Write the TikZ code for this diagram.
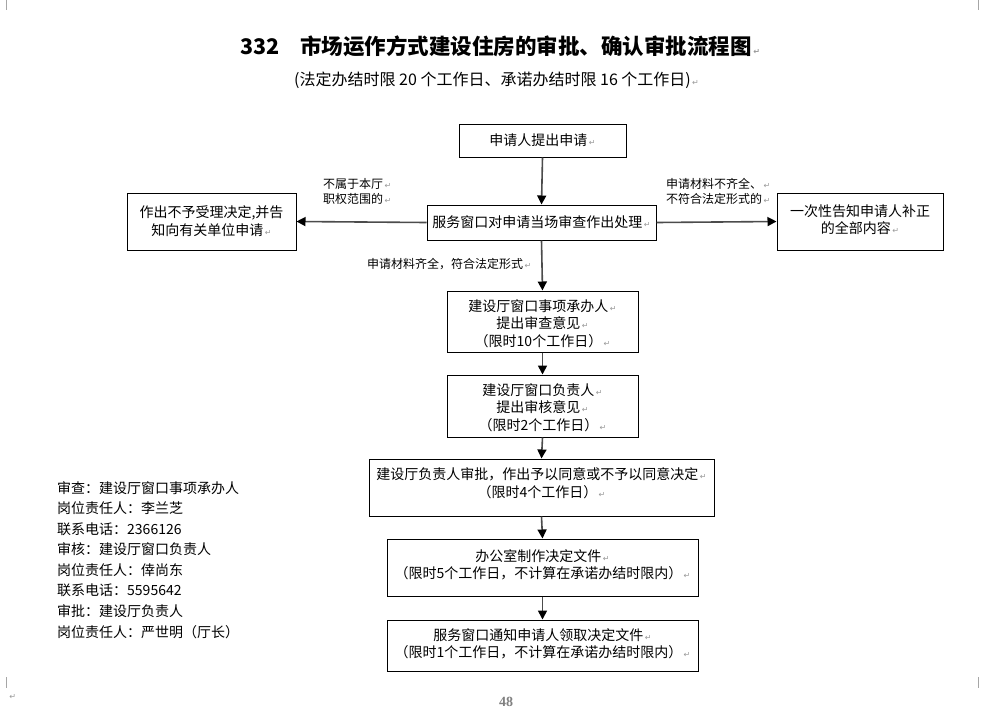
\documentclass[tikz,border=0pt]{standalone}
\usepackage{fontspec}
\setmainfont{Noto Sans CJK SC}
\newfontfamily\dejavu{DejaVu Sans}
\newfontfamily\serifnum{Liberation Serif}
\usetikzlibrary{arrows.meta}
\newcommand\parmk{{\color{gray!80}\dejavu\fontsize{8}{8}\selectfont\,↵}}
\begin{document}
\begin{tikzpicture}[x=1pt,y=-1pt,
  box/.style={draw=black,line width=1pt,inner sep=0pt},
  boxtxt/.style={font=\fontsize{14}{17.5}\selectfont,align=center,inner sep=0pt},
  lbl/.style={font=\fontsize{12}{15}\selectfont,align=left,inner sep=0pt},
  flow/.style={draw=gray!60!black,line width=1.6pt,-{Triangle[length=9pt,width=9pt,color=black]}},
  leftline/.style={font=\fontsize{14}{16}\selectfont,anchor=west,inner sep=0pt},
  cropmark/.style={draw=gray!70,line width=0.8pt}]
\fill[white] (0,0) rectangle (1004,718);
\useasboundingbox (0,0) rectangle (1004,718);
% crop marks
\draw[cropmark] (6,0) -- (6,10);
\draw[cropmark] (978,0) -- (978,10);
\draw[cropmark] (6,677) -- (6,688);
\draw[cropmark] (978,677) -- (978,688);
\node[inner sep=0pt] (pm0) at (12,697) {\parmk};
% title
\node[anchor=west,inner sep=0pt,font=\fontsize{21.5}{24}\selectfont\bfseries] (title) at (240,46)
  {332\hspace{21pt}市场运作方式建设住房的审批、确认审批流程图\parmk};
\node[anchor=west,inner sep=0pt,font=\fontsize{16}{18}\selectfont] (subtitle) at (294,80)
  {(法定办结时限 20 个工作日、承诺办结时限 16 个工作日)\parmk};
% boxes
\node[box,minimum width=167pt,minimum height=33pt] (A) at (542.5,140.5) {};
\node[boxtxt] (At) at (542.5,140.5) {申请人提出申请\parmk};
\node[box,minimum width=229pt,minimum height=35pt] (B) at (541.5,222.5) {};
\node[boxtxt] (Bt) at (541.5,222) {服务窗口对申请当场审查作出处理\parmk};
\node[box,minimum width=169pt,minimum height=57pt] (C) at (211.5,221.5) {};
\node[boxtxt] (Ct) at (211.5,221) {作出不予受理决定,并告\\知向有关单位申请\parmk};
\node[box,minimum width=166pt,minimum height=57pt] (D) at (860,221.5) {};
\node[boxtxt] (Dt) at (860,219.5) {一次性告知申请人补正\\的全部内容\parmk};
\node[box,minimum width=191pt,minimum height=61pt] (E) at (542.5,321.5) {};
\node[boxtxt] (Et) at (542.5,323.5) {建设厅窗口事项承办人\parmk\\提出审查意见\parmk\\（限时10个工作日）\parmk};
\node[box,minimum width=191pt,minimum height=62pt] (F) at (542.5,406) {};
\node[boxtxt] (Ft) at (542.5,407.5) {建设厅窗口负责人\parmk\\提出审核意见\parmk\\（限时2个工作日）\parmk};
\node[box,minimum width=345pt,minimum height=57pt] (G) at (541.5,487.5) {};
\node[boxtxt] (Gt) at (541.5,483) {建设厅负责人审批，作出予以同意或不予以同意决定\parmk\\（限时4个工作日）\parmk};
\node[box,minimum width=311pt,minimum height=57pt] (H) at (542.5,567.5) {};
\node[boxtxt] (Ht) at (542.5,565) {办公室制作决定文件\parmk\\（限时5个工作日，不计算在承诺办结时限内）\parmk};
\node[box,minimum width=311pt,minimum height=51pt] (I) at (542.5,645.5) {};
\node[boxtxt] (It) at (542.5,644) {服务窗口通知申请人领取决定文件\parmk\\（限时1个工作日，不计算在承诺办结时限内）\parmk};
% labels
\node[lbl,anchor=north west] (L1) at (323,178) {不属于本厅\parmk\\职权范围的\parmk};
\node[lbl,anchor=north west] (L2) at (666,178) {申请材料不齐全、\parmk\\不符合法定形式的\parmk};
\node[lbl,anchor=west] (L3) at (367,264) {申请材料齐全，符合法定形式\parmk};
% connectors
\draw[flow] (A.south) -- (B.north);
\draw[flow] (B.west) -- (C.east);
\draw[flow] (B.east) -- (D.west);
\draw[flow] (B.south) -- (E.north);
\draw[flow] (E.south) -- (F.north);
\draw[flow] (F.south) -- (G.north);
\draw[flow] (G.south) -- (H.north);
\draw[flow] (H.south) -- (I.north);
% left block
\node[leftline] (r1) at (57,488) {审查：建设厅窗口事项承办人};
\node[leftline] (r2) at (57,508.5) {岗位责任人：李兰芝};
\node[leftline] (r3) at (57,529) {联系电话：2366126};
\node[leftline] (r4) at (57,549.5) {审核：建设厅窗口负责人};
\node[leftline] (r5) at (57,570) {岗位责任人：倖尚东};
\node[leftline] (r6) at (57,590.5) {联系电话：5595642};
\node[leftline] (r7) at (57,611) {审批：建设厅负责人};
\node[leftline] (r8) at (57,632) {岗位责任人：严世明（厅长）};
% page number
\node[inner sep=0pt,font=\serifnum\bfseries\fontsize{14}{16}\selectfont,text=gray] (pg) at (506,702) {48};
\end{tikzpicture}
\end{document}
